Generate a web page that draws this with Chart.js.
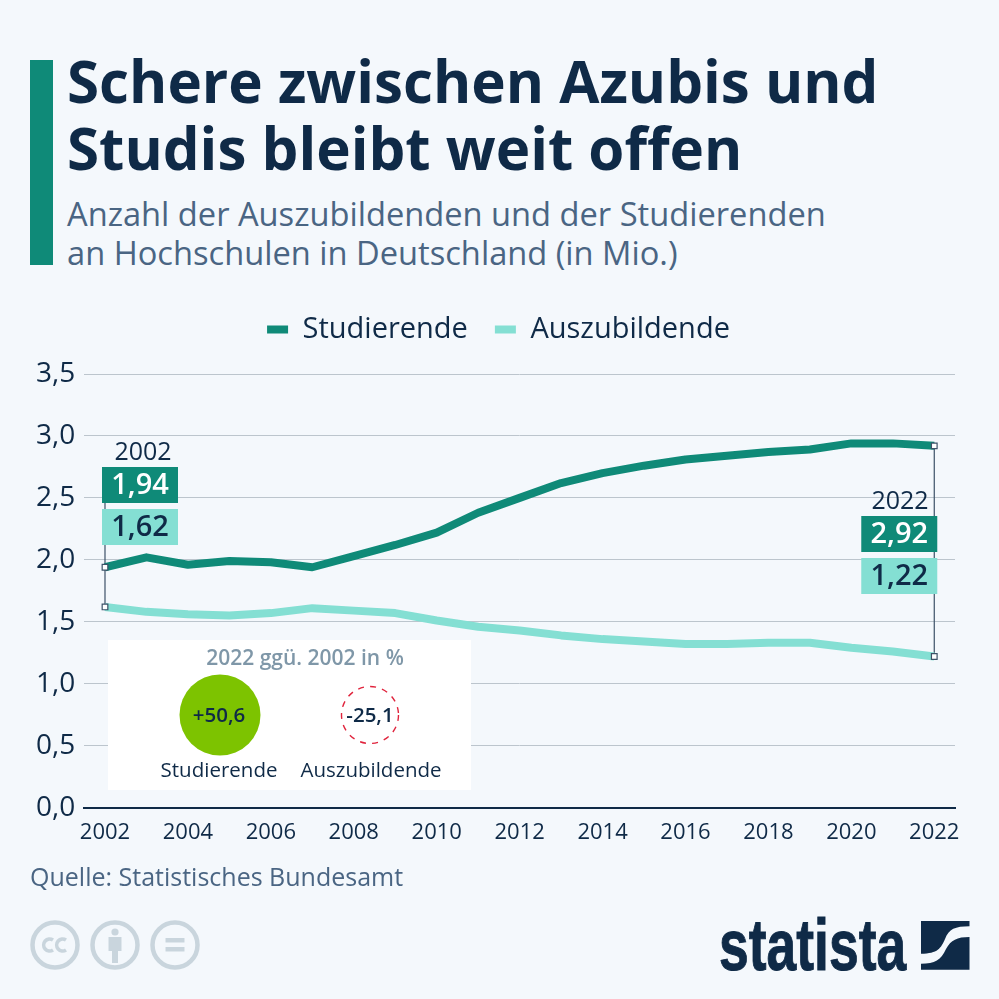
<!DOCTYPE html>
<html lang="de"><head><meta charset="utf-8">
<script src="https://cdn.jsdelivr.net/npm/chart.js@4"></script>
<style>
html,body{margin:0;padding:0;background:#f4f8fc;width:999px;height:999px;overflow:hidden}
body{position:relative;font-family:"Open Sans",sans-serif}
#c{position:absolute;left:0;top:0;width:999px;height:999px}
.t{position:absolute;white-space:nowrap}
#bar{position:absolute;left:30px;top:60px;width:23px;height:205px;background:#0f8a78}
#title{left:67px;top:47px;font-weight:700;font-size:58.3px;line-height:67px;color:#0f2a47}
#sub{left:67px;top:194px;font-size:32.65px;line-height:39px;color:#4a6583}
#src{left:30px;top:859px;font-size:25px;line-height:34px;color:#4a6583}
#logo{left:719px;top:905px;font-family:"Liberation Sans",sans-serif;font-weight:700;font-size:72px;line-height:80px;color:#0f2a47;-webkit-text-stroke:1px #0f2a47;transform-origin:left top;transform:scaleX(.7426)}
svg{position:absolute}
</style></head><body>
<div id="bar"></div>
<div id="title" class="t">Schere zwischen Azubis und<br>Studis bleibt weit offen</div>
<div id="sub" class="t">Anzahl der Auszubildenden und der Studierenden<br>an Hochschulen in Deutschland (in Mio.)</div>
<canvas id="c" width="999" height="999"></canvas>
<div id="src" class="t">Quelle: Statistisches Bundesamt</div>
<svg style="left:28px;top:920px" width="175" height="50" viewBox="0 0 175 50" fill="none">
<g stroke="#c9d5dd" stroke-width="4.5"><circle cx="27" cy="25" r="22.5"/><circle cx="87" cy="25" r="22.5"/><circle cx="147" cy="25" r="22.5"/>
<path d="M25 20a6 6 0 1 0 0 10M38 20a6 6 0 1 0 0 10" stroke-width="3.6"/></g>
<g fill="#c9d5dd"><circle cx="87" cy="12" r="3.6"/><rect x="80.5" y="17" width="13" height="14"/><rect x="84" y="30" width="6" height="13"/><rect x="137.5" y="18" width="19" height="4.5"/><rect x="137.5" y="27" width="19" height="4.5"/></g></svg>
<div id="logo" class="t">statista</div>
<svg style="left:921px;top:920px" width="50" height="51" viewBox="0 0 50 51"><path fill="#0f2a47" d="M0 1H48.5V6.3C34 6.3 28 9 24 19 20 28 17 33.7 0 33.7ZM48.5 17V49.7H0V43.7C14 43.7 20 40 25 29 30 20 36 17 48.5 17Z"/></svg>
<script>
const years=["2002","2003","2004","2005","2006","2007","2008","2009","2010","2011","2012","2013","2014","2015","2016","2017","2018","2019","2020","2021","2022"];
const studierende=[1.94,2.02,1.96,1.99,1.98,1.94,2.03,2.12,2.22,2.38,2.50,2.62,2.70,2.76,2.81,2.84,2.87,2.89,2.94,2.94,2.92];
const auszubildende=[1.62,1.58,1.56,1.55,1.57,1.61,1.59,1.57,1.51,1.46,1.43,1.39,1.36,1.34,1.32,1.32,1.33,1.33,1.29,1.26,1.22];
const seriesNames=["Studierende","Auszubildende"];
const changes=["+50,6","-25,1"];
const insetTitle="2022 ggü. 2002 in %";
const DARK="#0f2a47",TEAL="#0f8a78",MINT="#84dfd3";
const de=v=>v.toFixed(2).replace(".",",");
const FONT='"Open Sans"';

const overlay={id:"overlay",
 beforeInit(ch){
  const lg=ch.legend,fit=lg.fit,draw=lg.draw;
  lg.fit=function(){fit.call(this);this.height+=20;};
  lg.draw=function(){ch.ctx.save();ch.ctx.translate(7.5,0);draw.call(this);ch.ctx.restore();};
 },
 beforeDatasetsDraw(ch){
  const c=ch.ctx,x=ch.scales.x,y=ch.scales.y;
  c.save();c.fillStyle="#ffffff";c.fillRect(108,640,363,150);
  c.strokeStyle="#3d5268";c.lineWidth=1.2;
  const last=years.length-1;
  c.beginPath();
  c.moveTo(x.getPixelForValue(0),500);c.lineTo(x.getPixelForValue(0),y.getPixelForValue(auszubildende[0]));
  c.moveTo(x.getPixelForValue(last),y.getPixelForValue(studierende[last]));c.lineTo(x.getPixelForValue(last),y.getPixelForValue(auszubildende[last]));
  c.stroke();c.restore();
 },
 afterDatasetsDraw(ch){
  const c=ch.ctx,x=ch.scales.x;
  const last=years.length-1;
  const tag=(i,top,yearX)=>{
   const px=x.getPixelForValue(i);
   const left=i===0?px-3:px-73;
   c.save();c.textAlign="center";c.textBaseline="middle";
   c.fillStyle=DARK;c.font="400 25px "+FONT;c.fillText(years[i],yearX,top-14);
   c.fillStyle=TEAL;c.fillRect(left,top,76,36);
   c.fillStyle=MINT;c.fillRect(left,top+42,76,36);
   c.font="600 29px "+FONT;
   c.fillStyle="#fff";c.fillText(de(studierende[i]),left+38,top+19);
   c.fillStyle=DARK;c.fillText(de(auszubildende[i]),left+38,top+61);
   c.restore();
  };
  tag(0,467,143);tag(last,516,900);
  c.save();c.textAlign="center";c.textBaseline="middle";
  c.fillStyle="#7f97a8";c.font="600 21px "+FONT;c.fillText(insetTitle,305,659);
  c.fillStyle="#7dc300";c.beginPath();c.arc(220,715,40.5,0,Math.PI*2);c.fill();
  c.strokeStyle="#e0233c";c.lineWidth=1.4;c.setLineDash([6,6.2]);c.beginPath();c.arc(370,715,28.5,0,Math.PI*2);c.stroke();c.setLineDash([]);
  c.fillStyle=DARK;c.font="600 20.5px "+FONT;
  c.fillText(changes[0],219,716);c.fillText(changes[1],370,716);
  c.font="400 20.5px "+FONT;
  c.fillText(seriesNames[0],219,771);c.fillText(seriesNames[1],371,771);
  c.restore();
 }};

const endOnly=(on,off)=>ctx=>(ctx.dataIndex===0||ctx.dataIndex===years.length-1)?on:off;
const ds=(label,data,color)=>({label,data,borderColor:color,backgroundColor:color,borderWidth:8,tension:0,
 borderJoinStyle:"round",borderCapStyle:"butt",pointStyle:"rect",pointRadius:endOnly(4,0),pointHoverRadius:0,
 pointBackgroundColor:"#fff",pointBorderColor:"#3d5268",pointBorderWidth:1.2});

new Chart(document.getElementById("c"),{type:"line",
 data:{labels:years,datasets:[ds(seriesNames[0],studierende,TEAL),ds(seriesNames[1],auszubildende,MINT)]},
 plugins:[overlay],
 options:{responsive:false,animation:false,devicePixelRatio:1,
  layout:{padding:{top:288,left:27,right:44,bottom:149}},
  plugins:{tooltip:{enabled:false},
   legend:{position:"top",align:"center",labels:{boxWidth:21,boxHeight:8,padding:27,color:DARK,font:{family:FONT,size:29},
    generateLabels:ch=>Chart.defaults.plugins.legend.labels.generateLabels(ch).map(l=>({...l,lineWidth:0}))}}},
  scales:{
   x:{offset:true,grid:{display:false},border:{color:DARK,width:2},
    ticks:{autoSkip:false,maxRotation:0,color:DARK,padding:4,font:{family:FONT,size:22},
     callback(v,i){return i%2===0?years[i]:""}}},
   y:{min:0,max:3.5,grid:{color:"#bcc5cd",lineWidth:1,drawTicks:false},border:{display:false},
    ticks:{stepSize:0.5,color:DARK,padding:9,font:{family:FONT,size:28},callback:v=>v.toFixed(1).replace(".",",")}}
  }}});
</script></body></html>
